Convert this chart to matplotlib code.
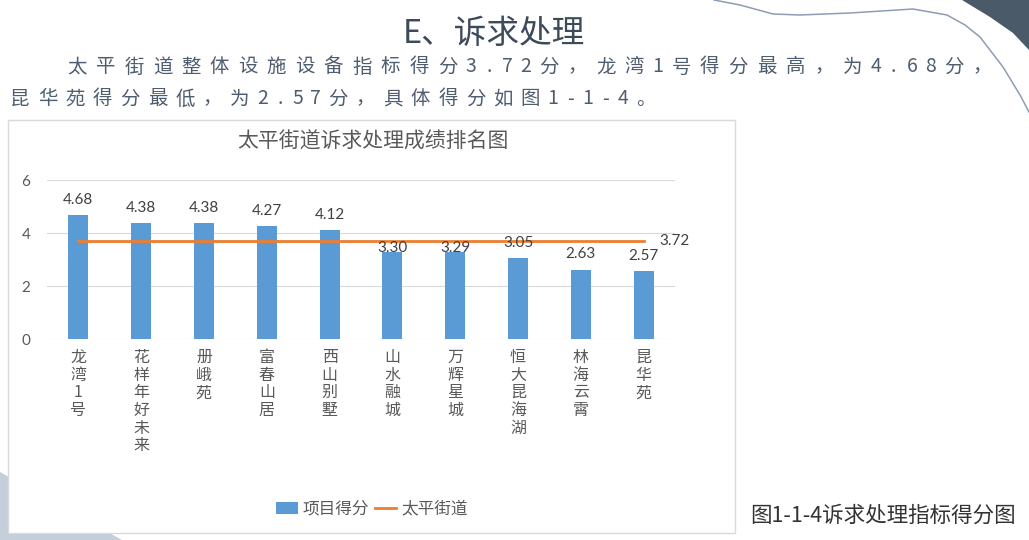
import numpy as np
import matplotlib.pyplot as plt
from matplotlib.patches import Rectangle, Polygon, Patch
from matplotlib.lines import Line2D

plt.rcParams['font.family'] = ['Noto Sans CJK SC', 'DejaVu Sans']

# 数据
categories = ['龙湾1号', '花样年好未来', '册峨苑', '富春山居', '西山别墅',
              '山水融城', '万辉星城', '恒大昆海湖', '林海云霄', '昆华苑']
scores = [4.68, 4.38, 4.38, 4.27, 4.12, 3.30, 3.29, 3.05, 2.63, 2.57]
street_avg = [3.72, 3.72, 3.72, 3.72, 3.72, 3.72, 3.72, 3.72, 3.72, 3.72]
yticks = [0, 2, 4, 6]

heading = 'E、诉求处理'
para1 = '太平街道整体设施设备指标得分3.72分，龙湾1号得分最高，为4.68分，'
para2 = '昆华苑得分最低，为2.57分，具体得分如图1-1-4。'
chart_title = '太平街道诉求处理成绩排名图'
caption = '图1-1-4诉求处理指标得分图'

W, H = 1029, 540
BLUE = '#5b9bd5'
ORANGE = '#ed7d31'


def spaced_text(ax, text, x0, y, unit, **kw):
    # 逐字排版，模拟原文的字距
    x = x0
    prev = None
    for ch in text:
        w = 0.64 if ord(ch) < 128 else 1.0
        if prev is not None:
            x += (prev + w) / 2 * unit
        ax.text(x, y, ch, ha='center', va='center', **kw)
        prev = w


def main():
    fig = plt.figure(figsize=(W / 100, H / 100), dpi=100)
    fig.patch.set_facecolor('white')

    # 背景层（像素坐标）
    bg = fig.add_axes([0, 0, 1, 1], zorder=0)
    bg.set_xlim(0, W)
    bg.set_ylim(H, 0)
    bg.axis('off')

    bg.add_patch(Polygon([(0, 472), (122, 540), (0, 540)], closed=True,
                         facecolor='#c5cfdb', edgecolor='none'))
    bg.add_patch(Polygon([(962, 0), (990, 17), (1013, 33), (1029, 50), (1029, 0)],
                         closed=True, facecolor='#4a5a69', edgecolor='none'))
    cx = [714, 740, 773, 800, 850, 913, 947, 965, 980, 1003, 1020, 1029]
    cy = [0, 5, 14, 15, 13, 9, 15, 25, 37, 67, 95, 112]
    bg.plot(cx, cy, color='#8d9db3', lw=1.1)

    bg.text(494, 34, heading, ha='center', va='center', fontsize=23.5,
            color='#3d4a5a')
    spaced_text(bg, para1, 77, 67, 28.5, fontsize=14, color='#4f5d70')
    spaced_text(bg, para2, 20, 99, 27.5, fontsize=14, color='#4f5d70')

    bg.add_patch(Rectangle((8, 120), 727, 413, facecolor='white',
                           edgecolor='#d9d9d9', lw=1))
    bg.text(373, 142, chart_title, ha='center', va='center', fontsize=15,
            color='#595959')
    bg.text(750, 516, caption, ha='left', va='center', fontsize=15.5,
            color='#333333')

    # 图表
    ax = fig.add_axes([47 / W, (H - 339.3) / H, 628 / W, 159 / H], zorder=2)
    ax.set_facecolor('none')
    x = np.arange(len(categories))
    ax.bar(x, scores, width=0.32, color=BLUE, zorder=3, label='项目得分')
    ax.plot(x, street_avg, color=ORANGE, lw=2, zorder=4, label='太平街道')

    ax.set_xlim(-0.5, len(categories) - 0.5)
    ax.set_ylim(0, 6)
    ax.set_yticks(yticks)
    ax.set_yticklabels([str(t) for t in yticks], fontsize=11, color='#595959',
                       family='Lato')
    ax.grid(axis='y', color='#d9d9d9', lw=0.8, zorder=0)
    for s in ax.spines.values():
        s.set_visible(False)
    ax.tick_params(length=0, axis='y', pad=12)
    ax.tick_params(length=0, axis='x', pad=7)
    ax.set_xticks(x)
    ax.set_xticklabels(['\n'.join(c) for c in categories], fontsize=11.5,
                       color='#595959', linespacing=1.05, va='top')

    nudge = {'山水融城': 3, '万辉星城': 3}
    for i, (c, v) in enumerate(zip(categories, scores)):
        ax.annotate(f'{v:.2f}', (i, v), xytext=(0, nudge.get(c, 11)),
                    textcoords='offset points', ha='center', va='center',
                    fontsize=11, color='#404040', family='Lato', zorder=5)
    ax.annotate(f'{street_avg[-1]:.2f}', (x[-1], street_avg[-1]),
                xytext=(11, 0), textcoords='offset points', ha='left',
                va='center', fontsize=11, color='#404040', family='Lato')

    handles = [Patch(facecolor=BLUE, label='项目得分'),
               Line2D([], [], color=ORANGE, lw=2, label='太平街道')]
    ax.legend(handles=handles, loc='center', ncol=2, frameon=False,
              bbox_to_anchor=(372 / W, 1 - 509 / H),
              bbox_transform=fig.transFigure, fontsize=12,
              handlelength=1.3, handletextpad=0.3, columnspacing=0.3,
              labelcolor='#595959')

    fig.savefig('out.png', dpi=100)


if __name__ == '__main__':
    main()
